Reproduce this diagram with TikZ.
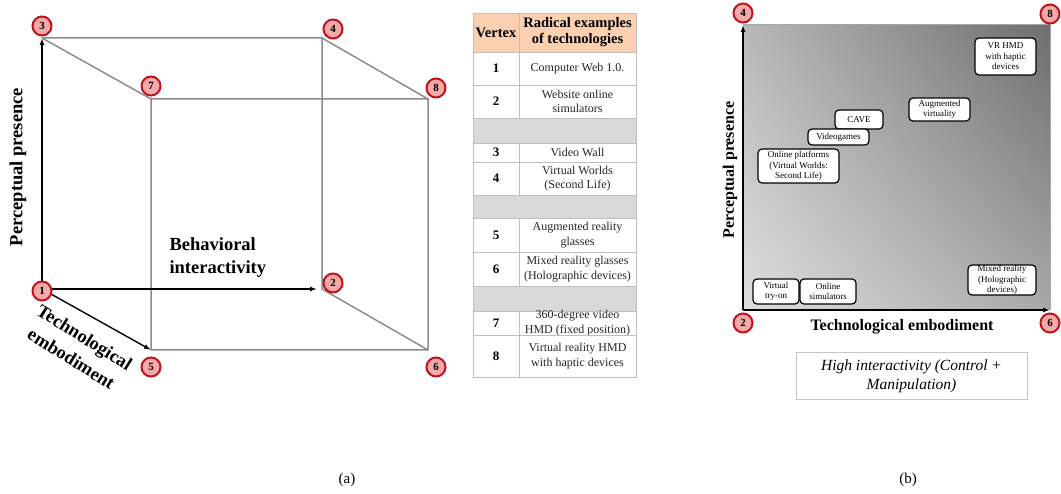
\documentclass[tikz,border=0pt]{standalone}
\usepackage{fontspec}
\setmainfont{Liberation Serif}
\usetikzlibrary{calc,arrows.meta,shadings}
\definecolor{vborder}{HTML}{C0141C}
\definecolor{vfill}{HTML}{F5A9A9}
\definecolor{headfill}{HTML}{FAD0B0}
\definecolor{gaprow}{HTML}{D9D9D9}
\definecolor{gridline}{HTML}{BFBFBF}
\definecolor{cubegray}{HTML}{8C8C8C}
\definecolor{shadeA}{HTML}{DEDEDE}
\definecolor{shadeB}{HTML}{B8B8B8}
\definecolor{shadeC}{HTML}{A8A8A8}
\definecolor{shadeD}{HTML}{6E6E6E}
\newcommand{\fs}[2]{\fontsize{#1}{#2}\selectfont}
\newcommand{\tabrow}[4]{
	\draw[gridline,line width=0.8pt] (473,#1) rectangle (636,#2);
	\draw[gridline,line width=0.8pt] (519,#1) -- (519,#2);
	\node (V#3) at ($(496,#1)!0.5!(496,#2)$) [font=\bfseries\fs{13}{15}] {#3};
	\node (T#3) at ($(577.5,#1)!0.5!(577.5,#2)$) [align=center,text=black!85,font=\fs{12}{14.5}] {#4};
}
\newcommand{\blankrow}[2]{
	\fill[gaprow] (473,#1) rectangle (636,#2);
	\draw[gridline,line width=0.8pt] (473,#1) rectangle (636,#2);
}

\begin{document}
\begin{tikzpicture}[x=1pt,y=-1pt,
	vtx/.style={circle,draw=vborder,line width=2pt,fill=vfill,inner sep=0pt,minimum size=19pt,font=\bfseries\fs{11}{11}},
	cubeedge/.style={draw=cubegray,line width=1.5pt},
	axis/.style={-{Latex[length=7pt,width=5pt]},line width=1.4pt},
	tech/.style={draw,rounded corners=4pt,fill=white,line width=1.2pt,align=center,inner sep=0pt,font=\fs{9}{10.5}},
	lbl/.style={font=\bfseries\fs{18.5}{23},align=center}]
	\useasboundingbox (0,0) rectangle (1061,494);

	% cube
	\coordinate (c1) at (42,289);
	\coordinate (c2) at (322,289);
	\coordinate (c3) at (42,38);
	\coordinate (c4) at (322,38);
	\coordinate (c5) at (151,350);
	\coordinate (c6) at (428,350);
	\coordinate (c7) at (151,99);
	\coordinate (c8) at (428,99);
	\draw[cubeedge] (c3) -- (c4) -- (c2) -- (c6);
	\draw[cubeedge] (c3) -- (c7) -- (c8) -- (c6) -- (c5) -- (c7);
	\draw[cubeedge] (c4) -- (c8);
	\draw[axis] (c1) -- (c3);
	\draw[axis,shorten >=5pt] (c1) -- (c2);
	\draw[axis] (c1) -- (c5);
	\node[vtx] (n1) at (42,291) {1};
	\node[vtx] (n2) at (333,283) {2};
	\node[vtx] (n3) at (42,26) {3};
	\node[vtx] (n4) at (333,29) {4};
	\node[vtx] (n5) at (151,367) {5};
	\node[vtx] (n6) at (436,367) {6};
	\node[vtx] (n7) at (151,86) {7};
	\node[vtx] (n8) at (436,88) {8};
	\node[lbl,rotate=90] (presence) at (18,167) {Perceptual presence};
	\node[lbl,align=left,anchor=west] (interact) at (166,258) {Behavioral\\interactivity};
	\node[lbl,rotate=-32,font=\bfseries\fs{18.5}{25}] (embody) at (78,348) {Technological\\embodiment};

	% table
	\fill[headfill] (473,13) rectangle (636,52);
	\draw[gridline,line width=0.8pt] (473,13) rectangle (636,52);
	\draw[gridline,line width=0.8pt] (519,13) -- (519,52);
	\node (Vhead) at (496,32.5) [font=\bfseries\fs{14.5}{16}] {Vertex};
	\node (Thead) at (577.5,32.5) [align=center,font=\bfseries\fs{14.5}{16}] {Radical examples\\of technologies};
	\tabrow{52}{85}{1}{Computer Web 1.0.}
	\tabrow{85}{118}{2}{Website online\\simulators}
	\blankrow{118}{143}
	\tabrow{143}{162}{3}{Video Wall}
	\tabrow{162}{195}{4}{Virtual Worlds\\(Second Life)}
	\blankrow{195}{218}
	\tabrow{218}{252}{5}{Augmented reality\\glasses}
	\tabrow{252}{286}{6}{Mixed reality glasses\\(Holographic devices)}
	\blankrow{286}{311}
	\tabrow{311}{335}{7}{360-degree video\\HMD (fixed position)}
	\tabrow{335}{377}{8}{Virtual reality HMD\\with haptic devices}

	% plane
	\coordinate (O) at (743,310);
	\coordinate (Ytop) at (743,25);
	\coordinate (Xend) at (1050,310);
	\shade[lower left=shadeA,upper right=shadeD,upper left=shadeB,lower right=shadeC] (O) rectangle (1050,25);
	\draw[gray!70,line width=1pt] (Ytop) -- (1050,25) -- (Xend);
	\draw[axis] (O) -- (Ytop);
	\draw[axis] (O) -- (Xend);
	\node[vtx] (p4) at (743,13) {4};
	\node[vtx] (p8) at (1050,14) {8};
	\node[vtx] (p2) at (743,323) {2};
	\node[vtx] (p6) at (1050,323) {6};
	\node[tech,minimum width=61pt,minimum height=37pt] (vrhmd) at (1005.5,56.5) {VR HMD\\with haptic\\devices};
	\node[tech,minimum width=61pt,minimum height=23pt] (augvirt) at (939.5,109.5) {Augmented\\virtuality};
	\node[tech,minimum width=48pt,minimum height=19pt] (cave) at (859,119.5) {CAVE};
	\node[tech,minimum width=61pt,minimum height=16pt] (games) at (838.5,137) {Videogames};
	\node[tech,minimum width=81pt,minimum height=34pt] (platforms) at (798.5,166) {Online platforms\\(Virtual Worlds:\\Second Life)};
	\node[tech,minimum width=46pt,minimum height=25pt] (tryon) at (776,291.5) {Virtual\\try-on};
	\node[tech,minimum width=56pt,minimum height=25pt] (simul) at (828,291.5) {Online\\simulators};
	\node[tech,minimum width=68pt,minimum height=30pt] (mixed) at (1002,280) {Mixed reality\\(Holographic\\devices)};
	\node[font=\bfseries\fs{16}{18},rotate=90] (presence2) at (730,170) {Perceptual presence};
	\node[font=\bfseries\fs{16}{18}] (embody2) at (902,327) {Technological embodiment};
	\node[draw=gray!45,line width=1pt,minimum width=231pt,minimum height=47pt,align=center,font=\itshape\fs{15.5}{19}] (highint) at (911.5,376.5) {High interactivity (Control +\\Manipulation)};

	\node[font=\fs{15}{17}] (capa) at (347,480) {(a)};
	\node[font=\fs{15}{17}] (capb) at (908,480) {(b)};
\end{tikzpicture}
\end{document}
